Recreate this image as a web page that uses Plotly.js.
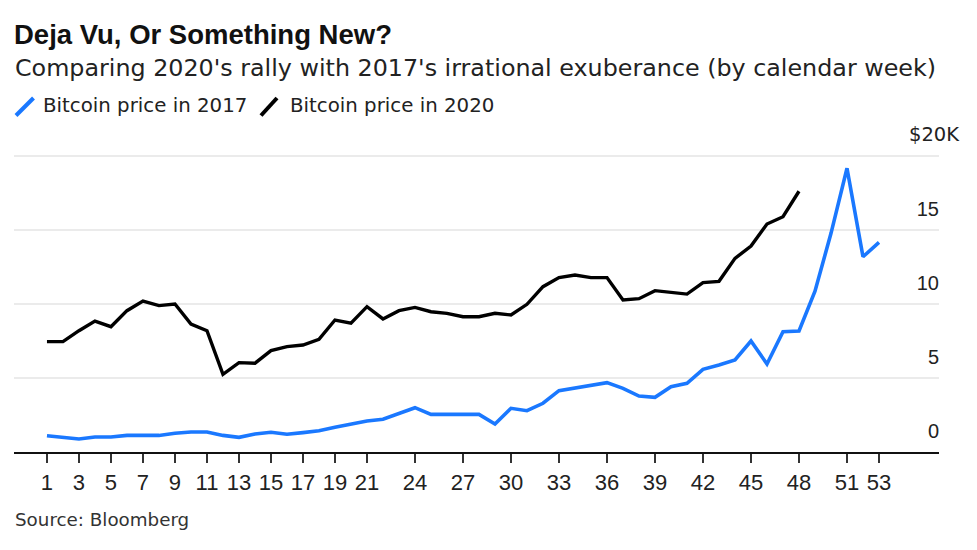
<!DOCTYPE html>
<html>
<head>
<meta charset="utf-8">
<script src="https://cdn.plot.ly/plotly-3.0.1.min.js"></script>
<style>
  html, body { margin: 0; padding: 0; background: #ffffff; }
  #chart { width: 977px; height: 550px; }
</style>
</head>
<body>
<div id="chart"></div>
<script>
// ---- Data ----
const weeks2017 = [1,2,3,4,5,6,7,8,9,10,11,12,13,14,15,16,17,18,19,20,21,22,23,24,25,26,27,28,29,30,31,32,33,34,35,36,37,38,39,40,41,42,43,44,45,46,47,48,49,50,51,52,53];
const price2017 = [1.10,0.99,0.88,1.01,1.01,1.12,1.12,1.12,1.26,1.35,1.35,1.12,0.99,1.21,1.33,1.20,1.31,1.44,1.67,1.89,2.09,2.21,2.61,2.99,2.54,2.54,2.54,2.54,1.89,2.95,2.79,3.29,4.14,4.30,4.52,4.68,4.30,3.78,3.69,4.41,4.64,5.58,5.87,6.21,7.49,5.94,8.12,8.17,10.85,14.76,19.15,13.18,14.15];
const weeks2020 = [1,2,3,4,5,6,7,8,9,10,11,12,13,14,15,16,17,18,19,20,21,22,23,24,25,26,27,28,29,30,31,32,33,34,35,36,37,38,39,40,41,42,43,44,45,46,47,48];
const price2020 = [7.45,7.45,8.19,8.84,8.46,9.54,10.19,9.88,9.99,8.64,8.19,5.24,6.03,5.99,6.84,7.11,7.22,7.60,8.91,8.69,9.81,8.98,9.54,9.76,9.47,9.36,9.13,9.13,9.36,9.25,9.97,11.16,11.77,11.95,11.77,11.77,10.26,10.35,10.89,10.78,10.66,11.43,11.52,13.07,13.90,15.39,15.88,17.60];
const xTickVals = [1,3,5,7,9,11,13,15,17,19,21,24,27,30,33,36,39,42,45,48,51,53];
const yTickVals = [0,5,10,15,20];
const yTickText = ['0','5','10','15',''];
const seriesNames = ['Bitcoin price in 2017','Bitcoin price in 2020'];
const titleText = 'Deja Vu, Or Something New?';
const subtitleText = "Comparing 2020's rally with 2017's irrational exuberance (by calendar week)";
const sourceText = 'Source: Bloomberg';
const topLabel = '$20K';

// ---- Styling / layout ----
const W = 977, H = 550;
const M = {l: 14, r: 38, t: 140, b: 98};
const plotW = W - M.l - M.r, plotH = H - M.t - M.b;
const px = x => (x - M.l) / plotW;          // pixel -> paper x
const py = y => (H - M.b - y) / plotH;      // pixel -> paper y
const FONT = '"Liberation Sans", Arial, sans-serif';
const WIDE = '"DejaVu Sans", "Liberation Sans", sans-serif';
const BLUE = '#1a78ff';
const BLACK = '#000000';

const traces = [
  {x: weeks2017, y: price2017, type: 'scatter', mode: 'lines', name: seriesNames[0],
   line: {color: BLUE, width: 3.6}, hoverinfo: 'skip'},
  {x: weeks2020, y: price2020, type: 'scatter', mode: 'lines', name: seriesNames[1],
   line: {color: BLACK, width: 3.4}, hoverinfo: 'skip'}
];

const layout = {
  width: W, height: H,
  margin: M,
  paper_bgcolor: '#ffffff', plot_bgcolor: '#ffffff',
  showlegend: false,
  font: {family: FONT, color: '#222222'},
  title: {
    text: '<b>' + titleText + '</b>',
    font: {family: FONT, size: 27.5, color: '#111111'},
    xref: 'container', yref: 'container',
    x: 14 / W, xanchor: 'left',
    y: 1 - 34.5 / H, yanchor: 'middle'
  },
  xaxis: {
    range: [-1.06, 56.75],
    tickmode: 'array', tickvals: xTickVals,
    ticks: 'outside', ticklen: 9, tickwidth: 1.3, tickcolor: '#333333',
    showline: true, linecolor: '#111111', linewidth: 1.5,
    showgrid: false, zeroline: false,
    tickfont: {family: FONT, size: 22, color: '#222222'},
    ticklabelstandoff: 1,
    fixedrange: true
  },
  yaxis: {
    range: [0, 21.06],
    side: 'right',
    tickmode: 'array', tickvals: yTickVals, ticktext: yTickText,
    ticklabelposition: 'inside',
    ticklabelshift: -21,
    ticklabelstandoff: -3,
    ticks: '',
    showgrid: true, gridcolor: '#ebebeb', gridwidth: 1.6,
    showline: false, zeroline: false,
    tickfont: {family: FONT, size: 20, color: '#222222'},
    fixedrange: true
  },
  shapes: [
    {type: 'line', xref: 'paper', yref: 'paper',
     x0: px(16), y0: py(115.5), x1: px(33.5), y1: py(98),
     line: {color: BLUE, width: 4}},
    {type: 'line', xref: 'paper', yref: 'paper',
     x0: px(261), y0: py(115.5), x1: px(277), y1: py(98),
     line: {color: BLACK, width: 4}}
  ],
  annotations: [
    {text: subtitleText, xref: 'paper', yref: 'paper', x: px(13), y: py(68.5),
     xanchor: 'left', yanchor: 'middle', showarrow: false,
     font: {family: WIDE, size: 23.8, color: '#222222'}},
    {text: seriesNames[0], xref: 'paper', yref: 'paper', x: px(41), y: py(106),
     xanchor: 'left', yanchor: 'middle', showarrow: false,
     font: {family: WIDE, size: 19.8, color: '#222222'}},
    {text: seriesNames[1], xref: 'paper', yref: 'paper', x: px(288), y: py(106),
     xanchor: 'left', yanchor: 'middle', showarrow: false,
     font: {family: WIDE, size: 19.8, color: '#222222'}},
    {text: topLabel, xref: 'paper', yref: 'paper', x: px(962), y: py(134),
     xanchor: 'right', yanchor: 'middle', showarrow: false,
     font: {family: WIDE, size: 19.5, color: '#222222'}},
    {text: sourceText, xref: 'paper', yref: 'paper', x: px(13), y: py(519.5),
     xanchor: 'left', yanchor: 'middle', showarrow: false,
     font: {family: WIDE, size: 18.3, color: '#333333'}}
  ]
};

Plotly.newPlot('chart', traces, layout, {staticPlot: true, displayModeBar: false});
</script>
</body>
</html>
